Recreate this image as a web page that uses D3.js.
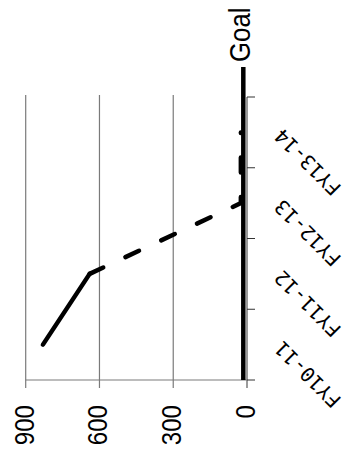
<!DOCTYPE html>
<html>
<head>
<meta charset="utf-8">
<script src="https://cdn.jsdelivr.net/npm/d3@7"></script>
<style>
  html, body { margin: 0; padding: 0; background: #fff; }
  svg { display: block; }
</style>
</head>
<body>
<svg id="chart" width="350" height="454"></svg>
<script>
// Fiscal years on the category axis
const categories = ["FY10-11", "FY11-12", "FY12-13", "FY13-14"];
// Recorded values (solid line)
const actualValues = [830, 640, null, null];
// Projected path toward the goal (dashed line)
const projectedValues = [null, 640, 25, 25];
// Goal level
const goalValue = 15;
const goalLabel = "Goal";
// Value axis ticks
const valueTicks = [0, 300, 600, 900];
const valueTickLabels = ["0", "300", "600", "900"];

const svg = d3.select("#chart");
svg.append("rect").attr("width", 350).attr("height", 454).attr("fill", "#fff");

// The chart is laid out turned a quarter turn: values run right-to-left,
// categories run bottom-to-top.
const x = d3.scaleLinear().domain([0, 900]).range([247, 25.7]);
const y = d3.scaleBand().domain(categories).range([380, 97]).paddingInner(0).paddingOuter(0);
const yc = c => y(c) + y.bandwidth() / 2;

const plotBottom = y.range()[0];
const plotTop = y.range()[1];

// Gridlines (extend past the value axis as ticks)
svg.append("g").selectAll("line")
  .data(valueTicks.filter(t => t !== 0))
  .join("line")
  .attr("x1", d => x(d)).attr("x2", d => x(d))
  .attr("y1", plotTop - 2).attr("y2", plotBottom + 8)
  .attr("stroke", "#7a7a7a").attr("stroke-width", 1.2);

// Value axis line
svg.append("line")
  .attr("x1", x(900)).attr("x2", x(0))
  .attr("y1", plotBottom).attr("y2", plotBottom)
  .attr("stroke", "#7a7a7a").attr("stroke-width", 1.2);

// Category axis line at zero
svg.append("line")
  .attr("x1", x(0)).attr("x2", x(0))
  .attr("y1", plotTop).attr("y2", plotBottom + 8)
  .attr("stroke", "#7a7a7a").attr("stroke-width", 1.5);

// Category boundary ticks
const boundaryPositions = [plotBottom].concat(categories.map(c => y(c)));
svg.append("g").selectAll("line")
  .data(boundaryPositions)
  .join("line")
  .attr("x1", x(0)).attr("x2", x(0) + 8)
  .attr("y1", d => d).attr("y2", d => d)
  .attr("stroke", "#333").attr("stroke-width", 1);

// Goal line, carried past the plot to its label
svg.append("line")
  .attr("x1", x(goalValue)).attr("x2", x(goalValue))
  .attr("y1", plotBottom).attr("y2", plotTop - 30)
  .attr("stroke", "#000").attr("stroke-width", 4.5);

svg.append("text")
  .attr("transform", `translate(${x(goalValue) + 7},${plotTop - 35}) scale(1,0.86) rotate(-90)`)
  .attr("text-anchor", "start")
  .attr("font-family", "Liberation Sans, Arial, sans-serif")
  .attr("font-size", 30)
  .attr("fill", "#000")
  .text(goalLabel);

// Actual and projected lines
const line = d3.line()
  .defined(d => d.v !== null)
  .x(d => x(d.v))
  .y(d => yc(d.c));

svg.append("path")
  .datum(categories.map((c, i) => ({ c, v: actualValues[i] })))
  .attr("d", line)
  .attr("fill", "none").attr("stroke", "#000")
  .attr("stroke-width", 4.5).attr("stroke-linecap", "round").attr("stroke-linejoin", "round");

svg.append("path")
  .datum(categories.map((c, i) => ({ c, v: projectedValues[i] })))
  .attr("d", line)
  .attr("fill", "none").attr("stroke", "#000")
  .attr("stroke-width", 4.5).attr("stroke-linecap", "round")
  .attr("stroke-dasharray", "15,24.5");

// Value tick labels
svg.append("g").selectAll("text")
  .data(valueTicks)
  .join("text")
  .attr("transform", d => `translate(${x(d) + 8},${plotBottom + 25}) scale(1,0.86) rotate(-90)`)
  .attr("text-anchor", "end")
  .attr("font-family", "Liberation Sans, Arial, sans-serif")
  .attr("font-size", 28)
  .attr("fill", "#000")
  .text((d, i) => valueTickLabels[i]);

// Category labels, slanted
svg.append("g").selectAll("text")
  .data(categories)
  .join("text")
  .attr("transform", d => `translate(${x(0) + 36},${yc(d) - 5}) rotate(-135)`)
  .attr("text-anchor", "end")
  .attr("font-family", "DejaVu Sans Mono, monospace")
  .attr("font-size", 20)
  .attr("fill", "#000")
  .text(d => d);
</script>
</body>
</html>
